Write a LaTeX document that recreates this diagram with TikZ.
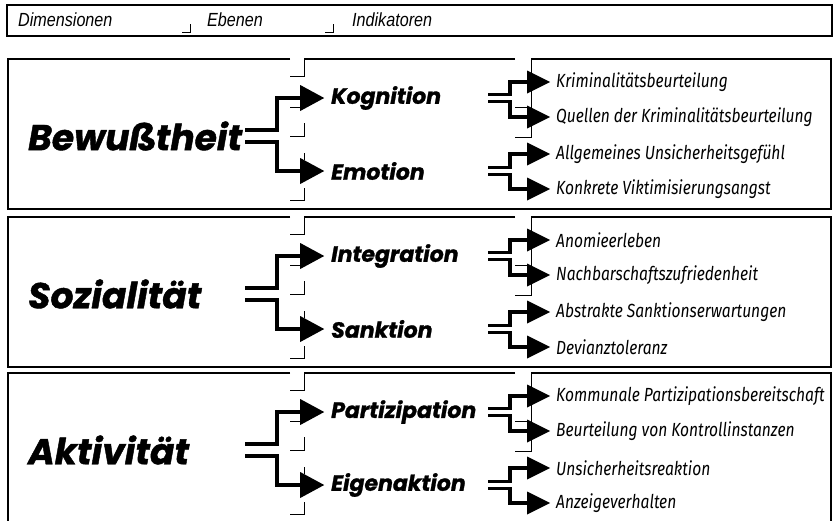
\documentclass[tikz,border=0pt]{standalone}
\usepackage{fontspec}
\usetikzlibrary{shapes.geometric}
\newfontfamily\dimfont[BoldItalicFeatures={FakeBold=1.2}]{Poppins}
\newfontfamily\indfont[FakeStretch=0.82]{Fira Sans}
\newfontfamily\headfont[FakeStretch=0.85]{Liberation Sans}
\begin{document}
\begin{tikzpicture}[x=1pt, y=-1pt,
  frame/.style={line width=1.4pt},
  tick/.style={line width=.6pt},
  conn/.style={line width=4.4pt},
  pair/.style={line width=3.4pt},
  head/.style={font=\headfont\itshape\fontsize{19}{19}\selectfont, anchor=west, inner sep=0pt},
  dim/.style={font=\dimfont\bfseries\itshape\fontsize{36}{36}\selectfont, anchor=west, inner sep=0pt},
  lvl/.style={font=\dimfont\bfseries\itshape\fontsize{22}{22}\selectfont, anchor=west, inner sep=0pt},
  ind/.style={font=\indfont\itshape\fontsize{19}{19}\selectfont, anchor=west, inner sep=0pt},
  tip/.style={isosceles triangle, isosceles triangle stretches, fill, inner sep=0pt, anchor=west,
    minimum width=26pt, minimum height=24pt},
  smalltip/.style={tip, minimum width=23pt, minimum height=23pt}]
\useasboundingbox (0,0) rectangle (835,520);
\fill[white] (0,0) rectangle (835,520);
\draw[frame] (7,5) rectangle (832,36);
\node[head] (h-dim) at (18,20) {Dimensionen};
\node[head] (h-lvl) at (207,20) {Ebenen};
\node[head] (h-ind) at (352,20) {Indikatoren};
\foreach \x in {190,333}
  \draw[tick] (\x-8,32) -| (\x,24);
\foreach \t/\n/\d/\la/\lb/\ia/\ib/\ic/\id in {
  59/bw/Bewußtheit/Kognition/Emotion/Kriminalitätsbeurteilung/Quellen der Kriminalitätsbeurteilung/Allgemeines Unsicherheitsgefühl/Konkrete Viktimisierungsangst,
  217/so/Sozialität/Integration/Sanktion/Anomieerleben/Nachbarschaftszufriedenheit/Abstrakte Sanktionserwartungen/Devianztoleranz,
  373/ak/Aktivität/Partizipation/Eigenaktion/Kommunale Partizipationsbereitschaft/Beurteilung von Kontrollinstanzen/Unsicherheitsreaktion/Anzeigeverhalten}{
  \draw[frame] (290,\t) -| (8,\t+150) -| (831,\t) -- (531,\t) (515,\t) -- (304,\t);
  \draw[tick] (290,\t+17) -| (304,\t) (290,\t+48) -- (302,\t+48)
    (290,\t+77) -| (304,\t+64) (304,\t+94) -- (304,\t+101)
    (290,\t+111) -- (302,\t+111) (290,\t+141) -| (304,\t+129)
    (515,\t+48) -- (529,\t+48) (515,\t+78) -| (531,\t);
  \node[dim] (\n-d) at (28,\t+77) {\d};
  \node[tip] (\n-ta) at (300,\t+39) {};
  \node[tip] (\n-tb) at (300,\t+112) {};
  \node[lvl] (\n-la) at (331,\t+39) {\la};
  \node[lvl] (\n-lb) at (331,\t+112) {\lb};
  \coordinate (\n-oa) at (245,\t+71);
  \coordinate (\n-ob) at (245,\t+83);
  \draw[conn] (\n-oa) -| ([xshift=-23pt]\n-ta.west) -- (\n-ta.west);
  \draw[conn] (\n-ob) -| ([xshift=-23pt]\n-tb.west) -- (\n-tb.west);
  \node[smalltip] (\n-ia) at (527,\t+23) {};
  \node[smalltip] (\n-ib) at (527,\t+58) {};
  \node[smalltip] (\n-ic) at (527,\t+95) {};
  \node[smalltip] (\n-id) at (527,\t+130) {};
  \node[ind] (\n-xa) at (556,\t+23) {\ia};
  \node[ind] (\n-xb) at (556,\t+58) {\ib};
  \node[ind] (\n-xc) at (556,\t+95) {\ic};
  \node[ind] (\n-xd) at (556,\t+130) {\id};
  \coordinate (\n-pa) at (488,\t+35.5);
  \coordinate (\n-pb) at (488,\t+42.5);
  \coordinate (\n-pc) at (488,\t+108.5);
  \coordinate (\n-pd) at (488,\t+115.5);
  \draw[pair] (\n-pa) -| ([xshift=-17pt]\n-ia.west) -- (\n-ia.west);
  \draw[pair] (\n-pb) -| ([xshift=-17pt]\n-ib.west) -- (\n-ib.west);
  \draw[pair] (\n-pc) -| ([xshift=-17pt]\n-ic.west) -- (\n-ic.west);
  \draw[pair] (\n-pd) -| ([xshift=-17pt]\n-id.west) -- (\n-id.west);
}
\end{tikzpicture}
\end{document}
